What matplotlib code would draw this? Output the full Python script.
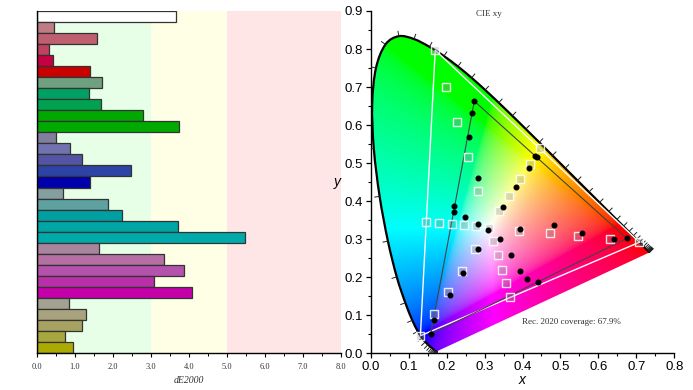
import numpy as np
import matplotlib
matplotlib.use('Agg')
import matplotlib.pyplot as plt
from matplotlib.patches import PathPatch
from matplotlib.path import Path

# ---------------- Left panel data (dE2000 per patch, top to bottom) ----------------
bar_values = [3.66,
              0.46, 1.58, 0.32, 0.43, 1.39,
              1.70, 1.36, 1.68, 2.80, 3.74,
              0.49, 0.86, 1.18, 2.47, 1.39,
              0.69, 1.87, 2.24, 3.72, 5.47,
              1.62, 3.35, 3.88, 3.07, 4.08,
              0.83, 1.29, 1.18, 0.73, 0.96]
bar_colors = ['#ffffff',
              '#be7d85', '#be6070', '#c2415e', '#c60044', '#c80000',
              '#6fa07f', '#00a062', '#00a250', '#00a800', '#00aa00',
              '#807f9e', '#7272ae', '#5355a4', '#2d44a6', '#0000aa',
              '#839f9f', '#5fa0a0', '#00a0a2', '#00a5a5', '#00aaaa',
              '#a8849e', '#b56fa3', '#b552ab', '#b82fa8', '#c400a8',
              '#a3a292', '#a8a27e', '#a8a262', '#a8a63e', '#aaaa00']
band_edges = [0, 3, 5, 8]
band_colors = ['#e6ffe6', '#ffffe6', '#ffe6e6']
bar_ticks = [0, 1, 2, 3, 4, 5, 6, 7, 8]
bar_tick_labels = ['0.0', '1.0', '2.0', '3.0', '4.0', '5.0', '6.0', '7.0', '8.0']

# ---------------- CIE 1931 spectral locus ----------------
locus_wl = [380, 385, 390, 395, 400, 405, 410, 415, 420, 425, 430, 435, 440, 445,
            450, 455, 460, 465, 470, 475, 480, 485, 490, 495, 500, 505, 510, 515,
            520, 525, 530, 535, 540, 545, 550, 555, 560, 565, 570, 575, 580, 585,
            590, 595, 600, 605, 610, 615, 620, 625, 630, 635, 640, 645, 650, 655,
            660, 665, 670, 675, 680, 685, 690, 695, 700]
locus_x = [0.1741, 0.1740, 0.1738, 0.1736, 0.1733, 0.1730, 0.1726, 0.1721, 0.1714,
           0.1703, 0.1689, 0.1669, 0.1644, 0.1611, 0.1566, 0.1510, 0.1440, 0.1355,
           0.1241, 0.1096, 0.0913, 0.0687, 0.0454, 0.0235, 0.0082, 0.0039, 0.0139,
           0.0389, 0.0743, 0.1142, 0.1547, 0.1929, 0.2296, 0.2658, 0.3016, 0.3373,
           0.3731, 0.4087, 0.4441, 0.4788, 0.5125, 0.5448, 0.5752, 0.6029, 0.6270,
           0.6482, 0.6658, 0.6801, 0.6915, 0.7006, 0.7079, 0.7140, 0.7190, 0.7230,
           0.7260, 0.7283, 0.7300, 0.7311, 0.7320, 0.7327, 0.7334, 0.7337, 0.7340,
           0.7344, 0.7347]
locus_y = [0.0050, 0.0050, 0.0049, 0.0049, 0.0048, 0.0048, 0.0048, 0.0048, 0.0051,
           0.0058, 0.0069, 0.0086, 0.0109, 0.0138, 0.0177, 0.0227, 0.0297, 0.0399,
           0.0578, 0.0868, 0.1327, 0.2007, 0.2950, 0.4127, 0.5384, 0.6548, 0.7502,
           0.8120, 0.8338, 0.8262, 0.8059, 0.7816, 0.7543, 0.7243, 0.6923, 0.6589,
           0.6245, 0.5896, 0.5547, 0.5202, 0.4866, 0.4544, 0.4242, 0.3965, 0.3725,
           0.3514, 0.3340, 0.3197, 0.3083, 0.2993, 0.2920, 0.2859, 0.2809, 0.2770,
           0.2740, 0.2717, 0.2700, 0.2689, 0.2680, 0.2673, 0.2666, 0.2663, 0.2660,
           0.2656, 0.2653]

# Rec. 2020 primaries (R, G, B) and measured panel primaries
rec2020_x = [0.708, 0.170, 0.131]
rec2020_y = [0.292, 0.797, 0.046]
panel_x = [0.675, 0.273, 0.158]
panel_y = [0.302, 0.663, 0.050]

# Target patches (squares)
target_x = [0.3127,
            0.392, 0.472, 0.545, 0.631, 0.708,
            0.283, 0.256, 0.227, 0.199, 0.170,
            0.276, 0.240, 0.204, 0.168, 0.131,
            0.277, 0.247, 0.213, 0.180, 0.147,
            0.323, 0.335, 0.346, 0.357, 0.368,
            0.339, 0.364, 0.393, 0.420, 0.446]
target_y = [0.329,
            0.322, 0.315, 0.309, 0.301, 0.292,
            0.428, 0.515, 0.608, 0.701, 0.797,
            0.273, 0.216, 0.160, 0.104, 0.046,
            0.335, 0.337, 0.339, 0.343, 0.345,
            0.296, 0.258, 0.219, 0.184, 0.149,
            0.374, 0.414, 0.457, 0.497, 0.539]

# Measured patches (dots)
measured_x = [0.310,
              0.393, 0.483, 0.558, 0.642, 0.675,
              0.349, 0.284, 0.259, 0.268, 0.273,
              0.282, 0.242, 0.209, 0.167, 0.158,
              0.282, 0.248, 0.219, 0.220,
              0.340, 0.371, 0.393, 0.411, 0.442,
              0.383, 0.417, 0.434, 0.438]
measured_y = [0.324,
              0.328, 0.338, 0.316, 0.300, 0.302,
              0.384, 0.462, 0.570, 0.632, 0.663,
              0.275, 0.211, 0.153, 0.088, 0.050,
              0.341, 0.358, 0.372, 0.388,
              0.300, 0.258, 0.217, 0.195, 0.187,
              0.436, 0.488, 0.518, 0.516]

xy_ticks = [0.0, 0.1, 0.2, 0.3, 0.4, 0.5, 0.6, 0.7, 0.8]
y_ticks = [0.0, 0.1, 0.2, 0.3, 0.4, 0.5, 0.6, 0.7, 0.8, 0.9]

# ---------------- Figure ----------------
fig = plt.figure(figsize=(6.93, 3.90), dpi=100)

# ----- left: bar chart -----
axL = fig.add_axes([37 / 693, 37 / 390, 304 / 693, 342 / 390])
for i in range(len(band_colors)):
    axL.axvspan(band_edges[i], band_edges[i + 1], color=band_colors[i], lw=0, zorder=0)
pos = np.arange(len(bar_values))
axL.barh(pos, bar_values, height=1.0, color=bar_colors, edgecolor='#333333',
         linewidth=0.9, zorder=2)
axL.set_xlim(0, 8)
axL.set_ylim(len(bar_values) - 0.5, -0.5)
axL.set_yticks([])
axL.set_xticks(bar_ticks)
axL.set_xticklabels(bar_tick_labels, fontfamily='Liberation Serif', fontsize=6,
                    color='#333333')
axL.set_xticks(np.arange(0.5, 8, 1.0), minor=True)
axL.tick_params(axis='x', which='major', direction='out', length=3, width=0.8, pad=4)
axL.tick_params(axis='x', which='minor', direction='out', length=2, width=0.7)
for s in ['top', 'right']:
    axL.spines[s].set_visible(False)
axL.spines['left'].set_linewidth(1.0)
axL.spines['bottom'].set_linewidth(1.0)
axL.set_xlabel('dE2000', fontfamily='Liberation Serif', fontstyle='italic',
               fontsize=7, color='#333333', labelpad=4)

# ----- right: CIE xy diagram -----
axR = fig.add_axes([370.7 / 693, 36.7 / 390, 303.6 / 693, 342.3 / 390])
axR.set_xlim(0, 0.8)
axR.set_ylim(0, 0.9)

# chromaticity colour fill
n = 500
gx = np.linspace(0, 0.8, n)
gy = np.linspace(0, 0.9, n)
GX, GY = np.meshgrid(gx, gy)
GYs = np.clip(GY, 1e-3, None)
Xc = GX / GYs
Yc = np.ones_like(GX)
Zc = (1 - GX - GY) / GYs
M = np.array([[3.2406, -1.5372, -0.4986],
              [-0.9689, 1.8758, 0.0415],
              [0.0557, -0.2040, 1.0570]])
rgb = np.tensordot(M, np.stack([Xc, Yc, Zc]), axes=1)
rgb = np.clip(rgb, 0, None)
mx = rgb.max(axis=0)
mx[mx == 0] = 1
rgb = rgb / mx
rgb = np.where(rgb <= 0.0031308, 12.92 * rgb, 1.055 * np.power(rgb, 1 / 2.4) - 0.055)
rgb = np.clip(np.moveaxis(rgb, 0, -1), 0, 1)
img = axR.imshow(rgb, extent=(0, 0.8, 0, 0.9), origin='lower', aspect='auto',
                 interpolation='bilinear', zorder=1)

# smooth (Bezier) outline through the locus points
pts = np.column_stack([locus_x, locus_y])
npts = len(pts)
verts = [pts[0]]
codes = [Path.MOVETO]
for i in range(npts - 1):
    p0 = pts[max(i - 1, 0)]
    p1 = pts[i]
    p2 = pts[i + 1]
    p3 = pts[min(i + 2, npts - 1)]
    c1 = p1 + (p2 - p0) / 6.0
    c2 = p2 - (p3 - p1) / 6.0
    verts += [c1, c2, p2]
    codes += [Path.CURVE4] * 3
open_path = Path(verts, codes)
closed_path = Path(verts + [pts[0], pts[0]], codes + [Path.LINETO, Path.CLOSEPOLY])
clip = PathPatch(closed_path, facecolor='none', edgecolor='none',
                 transform=axR.transData)
axR.add_patch(clip)
img.set_clip_path(clip)
axR.add_patch(PathPatch(open_path, facecolor='none', edgecolor='black', lw=1.6,
                        zorder=3, capstyle='butt'))

# wavelength ticks
lx = np.array(locus_x)
ly = np.array(locus_y)
wx, wy = 0.3127, 0.329
for i in range(len(lx)):
    a = max(i - 1, 0)
    b = min(i + 1, len(lx) - 1)
    tx, ty = lx[b] - lx[a], ly[b] - ly[a]
    nx, ny = ty, -tx
    nn = np.hypot(nx, ny)
    if nn == 0:
        continue
    nx, ny = nx / nn, ny / nn
    if nx * (lx[i] - wx) + ny * (ly[i] - wy) < 0:
        nx, ny = -nx, -ny
    L = 0.013
    axR.plot([lx[i], lx[i] + L * nx], [ly[i], ly[i] + L * ny], color='#222222',
             lw=0.7, zorder=3)

# gamut triangles
axR.plot(rec2020_x + rec2020_x[:1], rec2020_y + rec2020_y[:1], color='white',
         lw=1.0, zorder=4)
axR.plot(panel_x + panel_x[:1], panel_y + panel_y[:1], color='#444444', lw=0.8,
         zorder=4)

# targets and measurements
axR.scatter(target_x, target_y, marker='s', s=38, facecolor=(0.55, 0.55, 0.55, 0.3),
            edgecolor=(1, 1, 1, 0.85), linewidth=1.0, zorder=5)
axR.scatter(measured_x, measured_y, marker='o', s=11, color='black', zorder=6)

axR.text(0.312, 0.893, 'CIE xy', fontfamily='Liberation Serif', fontsize=6.5,
         color='#333333', ha='center', va='center')
axR.text(0.530, 0.0815, 'Rec. 2020 coverage: 67.9%', fontfamily='Liberation Serif',
         fontsize=6.5, color='#333333', ha='center', va='center', zorder=7)

axR.set_xticks(xy_ticks)
axR.set_xticklabels(['%.1f' % v for v in xy_ticks])
axR.set_yticks(y_ticks)
axR.set_yticklabels(['%.1f' % v for v in y_ticks])
axR.set_xticks(np.arange(0.05, 0.8, 0.1), minor=True)
axR.set_yticks(np.arange(0.05, 0.9, 0.1), minor=True)
for lab in axR.get_xticklabels() + axR.get_yticklabels():
    lab.set_fontfamily('Liberation Sans')
    lab.set_fontsize(9.5)
axR.tick_params(which='major', direction='out', length=3.5, width=0.9, pad=2)
axR.tick_params(which='minor', direction='out', length=2, width=0.8)
for s in ['top', 'right']:
    axR.spines[s].set_visible(False)
axR.spines['left'].set_linewidth(1.0)
axR.spines['bottom'].set_linewidth(1.0)
axR.set_xlabel('x', fontfamily='Liberation Sans', fontstyle='italic', fontsize=10,
               labelpad=0)
axR.set_ylabel('y', fontfamily='Liberation Sans', fontstyle='italic', fontsize=10,
               labelpad=5, rotation=0, va='center')

fig.savefig('out.png', dpi=100)
